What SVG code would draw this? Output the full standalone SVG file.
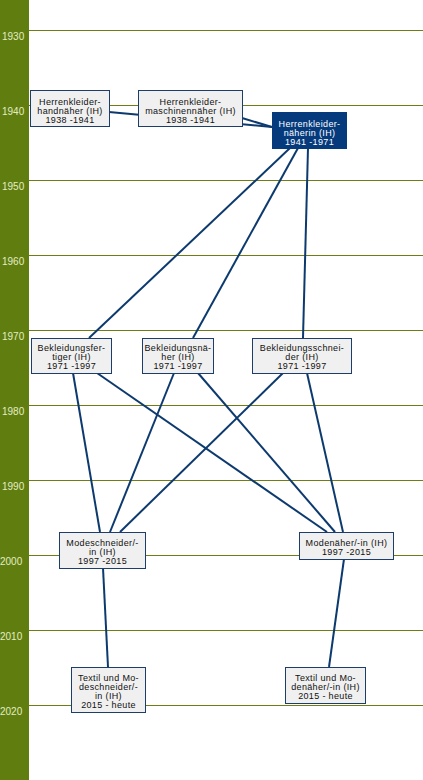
<svg xmlns="http://www.w3.org/2000/svg" width="423" height="780" viewBox="0 0 423 780">
<style>
.yl{stroke:#6e7d16;stroke-width:1}
.yt{font-family:"Liberation Sans",Arial,sans-serif;font-size:10px;fill:#e4ecc4}
.n rect{fill:#f0f0f0;stroke:#1d3d6b;stroke-width:1}
.n text{font-family:"Liberation Sans",Arial,sans-serif;font-size:9px;letter-spacing:0.35px;fill:#111;text-anchor:middle}
.d rect{fill:#053a7c;stroke:#053a7c}
.d text{fill:#fff}
#edges line{stroke:#0d3a6e;stroke-width:2;fill:none}
</style>
<rect x="0" y="0" width="423" height="780" fill="#fff"/>
<rect x="0" y="0" width="29" height="780" fill="#5f7e0f"/>
<g id="timeline">
<line class="yl" x1="29" y1="30.5" x2="423" y2="30.5"/>
<line class="yl" x1="29" y1="105.5" x2="423" y2="105.5"/>
<line class="yl" x1="29" y1="180.5" x2="423" y2="180.5"/>
<line class="yl" x1="29" y1="255.5" x2="423" y2="255.5"/>
<line class="yl" x1="29" y1="330.5" x2="423" y2="330.5"/>
<line class="yl" x1="29" y1="405.5" x2="423" y2="405.5"/>
<line class="yl" x1="29" y1="480.5" x2="423" y2="480.5"/>
<line class="yl" x1="29" y1="555.5" x2="423" y2="555.5"/>
<line class="yl" x1="29" y1="630.5" x2="423" y2="630.5"/>
<line class="yl" x1="29" y1="705.5" x2="423" y2="705.5"/>
<text class="yt" x="2" y="39.5">1930</text>
<text class="yt" x="2" y="114.5">1940</text>
<text class="yt" x="2" y="189.5">1950</text>
<text class="yt" x="2" y="264.5">1960</text>
<text class="yt" x="2" y="339.5">1970</text>
<text class="yt" x="2" y="414.5">1980</text>
<text class="yt" x="2" y="489.5">1990</text>
<text class="yt" x="0" y="564.5">2000</text>
<text class="yt" x="0" y="639.5">2010</text>
<text class="yt" x="0" y="714.5">2020</text>
</g>
<g id="edges">
<line x1="109" y1="112" x2="272" y2="127"/>
<line x1="242" y1="118" x2="272" y2="127"/>
<line x1="290" y1="148" x2="89" y2="338"/>
<line x1="298" y1="148" x2="193" y2="338"/>
<line x1="308" y1="148" x2="303" y2="338"/>
<line x1="73" y1="373" x2="100" y2="532"/>
<line x1="97" y1="373" x2="327" y2="532"/>
<line x1="174" y1="373" x2="110" y2="532"/>
<line x1="198" y1="373" x2="335" y2="532"/>
<line x1="283" y1="373" x2="120" y2="532"/>
<line x1="307" y1="373" x2="343" y2="532"/>
<line x1="103" y1="568" x2="108" y2="667"/>
<line x1="344" y1="559" x2="329" y2="667"/>
</g>
<g id="n-handnaeher" class="n">
<rect x="30.5" y="90.5" width="79" height="36"/>
<text x="70" y="104.6">Herrenkleider-</text>
<text x="70" y="113.8">handnäher (IH)</text>
<text x="70" y="123">1938 -1941</text>
</g>
<g id="n-maschinennaeher" class="n">
<rect x="138.5" y="90.5" width="104" height="36"/>
<text x="190.5" y="104.6">Herrenkleider-</text>
<text x="190.5" y="113.8">maschinennäher (IH)</text>
<text x="190.5" y="123">1938 -1941</text>
</g>
<g id="n-naeherin" class="n d">
<rect x="272.5" y="112.5" width="74" height="36"/>
<text x="309.5" y="126.6">Herrenkleider-</text>
<text x="309.5" y="135.8">näherin (IH)</text>
<text x="309.5" y="145">1941 -1971</text>
</g>
<g id="n-fertiger" class="n">
<rect x="31.5" y="338.5" width="80" height="35"/>
<text x="71.5" y="350.6">Bekleidungsfer-</text>
<text x="71.5" y="359.8">tiger (IH)</text>
<text x="71.5" y="369">1971 -1997</text>
</g>
<g id="n-bnaeher" class="n">
<rect x="142.5" y="338.5" width="71" height="35"/>
<text x="178" y="350.6">Bekleidungsnä-</text>
<text x="178" y="359.8">her (IH)</text>
<text x="178" y="369">1971 -1997</text>
</g>
<g id="n-bschneider" class="n">
<rect x="252.5" y="338.5" width="99" height="35"/>
<text x="302" y="350.6">Bekleidungsschnei-</text>
<text x="302" y="359.8">der (IH)</text>
<text x="302" y="369">1971 -1997</text>
</g>
<g id="n-modeschneider" class="n">
<rect x="59.5" y="532.5" width="86" height="36"/>
<text x="102.5" y="545.6">Modeschneider/-</text>
<text x="102.5" y="554.8">in (IH)</text>
<text x="102.5" y="564">1997 -2015</text>
</g>
<g id="n-modenaeher" class="n">
<rect x="299.5" y="532.5" width="94" height="27"/>
<text x="346.5" y="545.8">Modenäher/-in (IH)</text>
<text x="346.5" y="555">1997 -2015</text>
</g>
<g id="n-textil-modeschneider" class="n">
<rect x="71.5" y="667.5" width="74" height="45"/>
<text x="108.5" y="680.6">Textil und Mo-</text>
<text x="108.5" y="689.8">deschneider/-</text>
<text x="108.5" y="699">in (IH)</text>
<text x="108.5" y="708.2">2015 - heute</text>
</g>
<g id="n-textil-modenaeher" class="n">
<rect x="285.5" y="667.5" width="80" height="36"/>
<text x="325.5" y="680.6">Textil und Mo-</text>
<text x="325.5" y="689.8">denäher/-in (IH)</text>
<text x="325.5" y="699">2015 - heute</text>
</g>
</svg>
